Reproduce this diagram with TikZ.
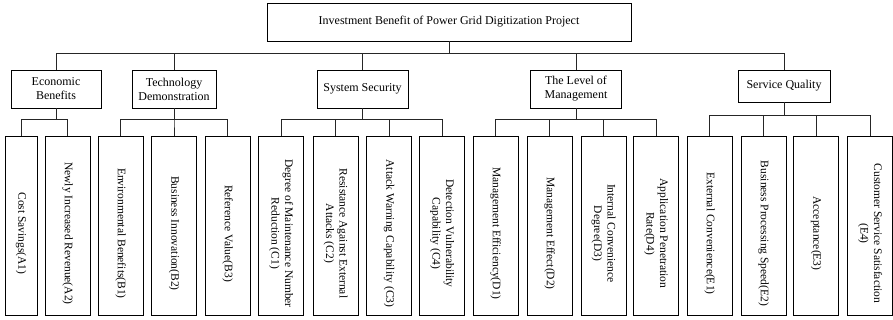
\documentclass[tikz,border=0pt]{standalone}
\usepackage{fontspec}
\setmainfont{Liberation Serif}
\newcommand{\leaftext}[1]{\hspace*{15pt}\begin{tabular}{@{}c@{}}#1\end{tabular}}
\begin{document}
\begin{tikzpicture}[x=1pt, y=-1pt,
  every node/.style={font=\fontsize{12}{14}\selectfont},
  box/.style={draw, line width=0.9pt, align=center, inner sep=0pt},
  leaf/.style={box, rotate=-90, anchor=west, minimum width=179pt, minimum height=45pt,
    font=\fontsize{11.5}{13.5}\selectfont},
  link/.style={line width=0.9pt, black!85}]
\useasboundingbox (0,0) rectangle (893,320);

\node[box, minimum width=364pt, minimum height=38pt] (root) at (449,22) {Investment Benefit of Power Grid Digitization Project};

  \node[box, minimum width=90pt, minimum height=38pt] (econ) at (56,89) {Economic\\Benefits};
  \node[box, minimum width=84pt, minimum height=38pt] (tech) at (174,89) {Technology\\Demonstration};
  \node[box, minimum width=91pt, minimum height=38pt] (sec) at (362.5,89) {System Security};
  \node[box, minimum width=91pt, minimum height=38pt] (mgmt) at (576,89) {The Level of\\Management};
  \node[box, minimum width=92pt, minimum height=32pt] (serv) at (784,86) {Service Quality};

  % economic benefits
  \node[leaf, minimum height=32pt] (a1) at (21,136) {\leaftext{Cost Savings(A1)}};
  \node[leaf] (a2) at (67.5,136) {\leaftext{Newly Increased Revenue(A2)}};
  % technology demonstration
  \node[leaf] (b1) at (120.5,136) {\leaftext{Environmental Benefits(B1)}};
  \node[leaf] (b2) at (174,136) {\leaftext{Business Innovation(B2)}};
  \node[leaf] (b3) at (227.5,136) {\leaftext{Reference Value(B3)}};
  % system security
  \node[leaf] (c1) at (281,136) {\leaftext{Degree of Maintenance Number\\Reduction (C1)}};
  \node[leaf] (c2) at (335.5,136) {\leaftext{Resistance Against External\\Attacks (C2)}};
  \node[leaf] (c3) at (389,136) {\leaftext{Attack Warning Capability (C3)}};
  \node[leaf] (c4) at (442,136) {\leaftext{Detection Vulnerability\\Capability (C4)}};
  % level of management
  \node[leaf] (d1) at (495.5,136) {\leaftext{Management Efficiency(D1)}};
  \node[leaf] (d2) at (549.5,136) {\leaftext{Management Effect(D2)}};
  \node[leaf] (d3) at (603.5,136) {\leaftext{Internal Convenience\\Degree(D3)}};
  \node[leaf] (d4) at (656,136) {\leaftext{Application Penetration\\Rate(D4)}};
  % service quality
  \node[leaf] (e1) at (709.5,136) {\leaftext{External Convenience(E1)}};
  \node[leaf] (e2) at (763.5,136) {\leaftext{Business Processing Speed(E2)}};
  \node[leaf] (e3) at (816,136) {\leaftext{Acceptance(E3)}};
  \node[leaf] (e4) at (870,136) {\leaftext{Customer Service Satisfaction\\(E4)}};

  \foreach \c in {econ,tech,sec,mgmt,serv}
    \draw[link] (root.south) -- ++(0,12) -| (\c.north);

  \foreach \l in {a1,a2}
    \draw[link] (econ.south) -- ++(0,11) -| (\l.west);
  \foreach \l in {b1,b2,b3}
    \draw[link] (tech.south) -- ++(0,11) -| (\l.west);
  \foreach \l in {c1,c2,c3,c4}
    \draw[link] (sec.south) -- ++(0,11) -| (\l.west);
  \foreach \l in {d1,d2,d3,d4}
    \draw[link] (mgmt.south) -- ++(0,11) -| (\l.west);
  \foreach \l in {e1,e2,e3,e4}
    \draw[link] (serv.south) -- ++(0,13) -| (\l.west);
\end{tikzpicture}
\end{document}
